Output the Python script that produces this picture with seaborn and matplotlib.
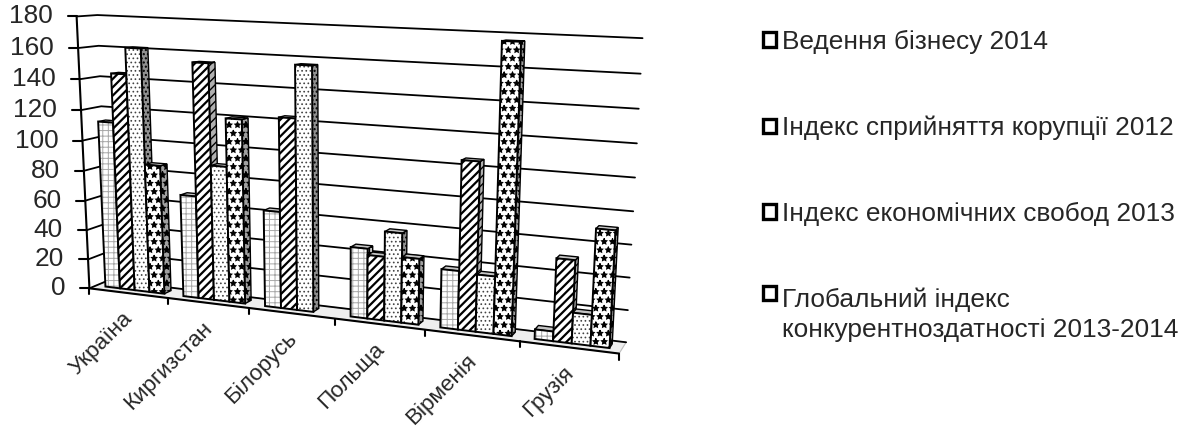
import numpy as np
import pandas as pd
import seaborn as sns
import matplotlib
matplotlib.use('Agg')
import matplotlib.pyplot as plt
from matplotlib.patches import Patch, Polygon
from matplotlib.transforms import Affine2D, Transform

countries = ['Україна', 'Киргизстан', 'Білорусь', 'Польща', 'Вірменія', 'Грузія']
series_names = ['Ведення бізнесу 2014', 'Індекс сприйняття корупції 2012',
                'Індекс економічних свобод 2013',
                'Глобальний індекс\nконкурентноздатності 2013-2014']
doing_business = [112, 68, 63, 45, 37, 6]
corruption = [144, 154, 123, 41, 105, 51]
econ_freedom = [161, 89, 156, 57, 36, 19]
competitiveness = [86, 120, np.nan, 42, 176, 71]
y_ticks = [0, 20, 40, 60, 80, 100, 120, 140, 160, 180]

hatches = ['+++', '////', '....', '**']
hatch_widths = [0.7, 1.6, 0.7, 0.8]
hatch_colors = ['#a8a8a8', 'black', '#444444', 'black']
side_colors = ['#c8c8c8', '#b0b0b0', '#909090', '#a0a0a0']

W, H = 1191, 430
Z_FRONT, Z_BACK = 0.35, 0.72
FONT = 18.9
XLABEL_FONT = 16.2

# camera calibration: (category x, value, depth) -> pixel, taken from the plot box corners
calib = [
    (-0.5, 0, 0, 90, 287), (0.5, 0, 0, 168, 297), (1.5, 0, 0, 250, 308),
    (2.5, 0, 0, 336, 319), (3.5, 0, 0, 425, 331), (4.5, 0, 0, 519, 343),
    (5.5, 0, 0, 618, 355), (-0.5, 180, 0, 76, 19), (5.5, 180, 0, 635, 35),
    (-0.5, 0, 1, 107, 281), (-0.5, 180, 1, 98, 13),
    (5.5, 0, 1, 627, 339), (5.5, 180, 1, 643, 43),
]
A, b = [], []
for x, y, z, u, v in calib:
    y = y / 180
    A.append([x, y, z, 1, 0, 0, 0, 0, -u * x, -u * y, -u * z])
    A.append([0, 0, 0, 0, x, y, z, 1, -v * x, -v * y, -v * z])
    b += [u, v]
p = np.linalg.lstsq(np.array(A, float), np.array(b, float), rcond=None)[0]
P = np.append(p, 1).reshape(3, 4)


def project(x, y, z):
    x, y = np.asarray(x, float), np.asarray(y, float) / 180
    w = np.stack([x, y, np.full_like(x, z), np.ones_like(x)], axis=-1)
    q = w @ P.T
    return q[..., :2] / q[..., 2:]


class Camera(Transform):
    input_dims = 2
    output_dims = 2

    def __init__(self, z):
        super().__init__()
        self.z = z

    def transform_non_affine(self, values):
        values = np.asarray(values)
        return project(values[:, 0], values[:, 1], self.z)


sns.set_theme(style='white')
plt.rcParams['font.family'] = ['Liberation Sans', 'DejaVu Sans']

df = pd.DataFrame({'country': countries * 4,
                   'series': np.repeat(series_names, 6),
                   'value': doing_business + corruption + econ_freedom + competitiveness})

fig = plt.figure(figsize=(W / 100, H / 100), dpi=100)
ax = fig.add_axes([0, 0, 1, 1])
sns.barplot(data=df, x='country', y='value', hue='series', hue_order=series_names,
            order=countries, width=0.76, gap=0, errorbar=None, legend=False,
            saturation=1, ax=ax)
ax.set_axis_off()

# everything below is laid out in image pixels, y going down
px = Affine2D().scale(1, -1).translate(0, H)
front = Camera(Z_FRONT) + px

# floor
xl, xr = -0.5, 5.5
floor = np.vstack([project([xl, xr], [0, 0], 0), project([xr, xl], [0, 0], 1)])
ax.add_patch(Polygon(floor, closed=True, fc='#eeeeee', ec='#bdbdbd', lw=0.8,
                     transform=px, zorder=1, clip_on=False))

# walls and gridlines
for v in y_ticks:
    a = project(xl, v, 0)
    c = project(xl, v, 1)
    d = project(xr, v, 1)
    ax.plot([a[0], c[0], d[0]], [a[1], c[1], d[1]], color='black', lw=1.3,
            transform=px, zorder=2, clip_on=False)
    ax.plot([a[0] - 9, a[0]], [a[1], a[1]], color='black', lw=1.5,
            transform=px, zorder=2, clip_on=False)
    ax.text(a[0] - 24, a[1], str(v), ha='right', va='center', transform=px, fontsize=FONT)

a, c = project(xl, 0, 0), project(xl, 180, 0)
ax.plot([a[0], c[0]], [a[1], c[1]], color='black', lw=1.5, transform=px, zorder=2, clip_on=False)
a, c = project(xl, 0, 0), project(xr, 0, 0)
ax.plot([a[0], c[0]], [a[1], c[1]], color='black', lw=1.5, transform=px, zorder=20, clip_on=False)

for i in range(len(countries) + 1):
    a = project(i - 0.5, 0, 0)
    ax.plot([a[0], a[0]], [a[1], a[1] + 6], color='black', lw=1.5, transform=px, zorder=20, clip_on=False)

for i, name in enumerate(countries):
    a = project(i, 0, 0)
    ax.text(a[0] - 6, a[1] + 15, name, rotation=45, ha='right', va='top',
            rotation_mode='anchor', transform=px, fontsize=XLABEL_FONT)

# bars: front faces come from seaborn, side and top faces follow from their geometry
for s, container in enumerate(ax.containers):
    for bar in container:
        h = bar.get_height()
        if np.isnan(h) or h <= 0:
            bar.set_visible(False)
            continue
        x0, x1 = bar.get_x(), bar.get_x() + bar.get_width()
        order = 3 + (x0 + 1) * 3
        bar.set_transform(front)
        bar.set_clip_on(False)
        bar.set_facecolor('white')
        bar.set_edgecolor(hatch_colors[s])
        bar.set_linewidth(0)
        bar.set_hatch(hatches[s])
        bar.set_hatch_linewidth(hatch_widths[s])
        bar.set_zorder(order + 0.2)

        f0, f1 = project([x0, x1], [h, h], Z_FRONT)
        g0, g1 = project([x0, x1], [h, h], Z_BACK)
        b0 = project(x1, 0, Z_FRONT)
        b1 = project(x1, 0, Z_BACK)
        ax.add_patch(Polygon([f1, g1, b1, b0], closed=True, fc=side_colors[s], ec='black', lw=1.0,
                             hatch=hatches[s], transform=px, zorder=order, clip_on=False))
        ax.add_patch(Polygon([f0, f1, g1, g0], closed=True, fc='#c4c4c4', ec='black', lw=1.0,
                             transform=px, zorder=order + 0.1, clip_on=False))
        c0 = project(x0, 0, Z_FRONT)
        ax.add_patch(Polygon([c0, b0, f1, f0], closed=True, fill=False, ec='black', lw=1.4,
                             transform=px, zorder=order + 0.3, clip_on=False))

handles = [Patch(fc='white', ec='black', lw=2.4, label=n) for n in series_names]
leg = fig.legend(handles=handles, loc='upper left', bbox_to_anchor=(763 / W, 1 - 30 / H),
                 frameon=False, handlelength=0.48, handleheight=0.48, handletextpad=0.25,
                 labelspacing=2.35, borderpad=0, borderaxespad=0, fontsize=FONT)
for t in leg.get_texts():
    t.set_linespacing(1.32)
last = leg.legend_handles[-1]
last.set_y(last.get_y() + 16)

fig.savefig('out.png', dpi=100)
